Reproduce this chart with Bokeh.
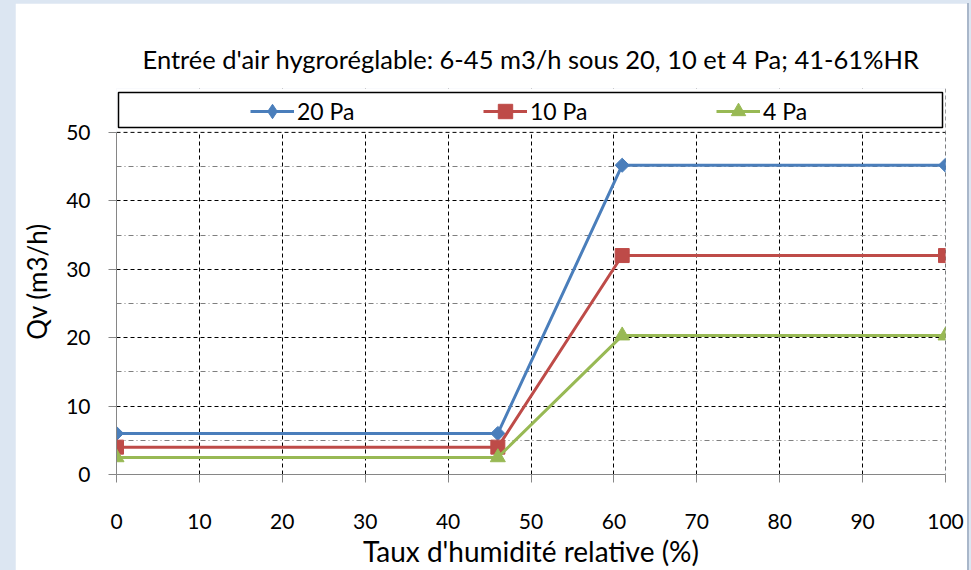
import math
from bokeh.plotting import figure
from bokeh.layouts import column
from bokeh.models import FixedTicker, Legend, LegendItem, Range1d, Span, BoxAnnotation
from bokeh.embed import file_html
from bokeh.resources import INLINE

# ---- data ----
humidity = [0, 46, 61, 100]
q_20pa = [6.0, 6.0, 45.2, 45.2]
q_10pa = [4.0, 4.0, 32.0, 32.0]
q_4pa = [2.5, 2.5, 20.3, 20.3]
series_names = ["20 Pa", "10 Pa", "4 Pa"]
x_ticks = [0, 10, 20, 30, 40, 50, 60, 70, 80, 90, 100]
y_ticks = [0, 10, 20, 30, 40, 50]
y_minor = [5, 15, 25, 35, 45]
title_text = "Entrée d'air hygroréglable: 6-45 m3/h sous 20, 10 et 4 Pa; 41-61%HR"
x_label = "Taux d'humidité relative (%)"
y_label = "Qv (m3/h)"

FONT = "Lato"
colors = ["#4A7EBB", "#BE4B48", "#98B954"]

# layout (pixels inside the figure canvas)
FIG_W, FIG_H = 952, 567
FRAME_TOP, FRAME_BOTTOM, AXIS_TOP = 85, 472, 129   # y of frame top, y=0, y=50
y_end = y_ticks[-1] * (FRAME_BOTTOM - FRAME_TOP) / (FRAME_BOTTOM - AXIS_TOP)

p = figure(width=FIG_W, height=FIG_H, output_backend="svg", toolbar_location=None,
           x_range=Range1d(x_ticks[0], x_ticks[-1]), y_range=Range1d(0, y_end),
           min_border_left=101, min_border_right=22, min_border_top=FRAME_TOP,
           min_border_bottom=FIG_H - FRAME_BOTTOM)
p.margin = (3, 4, 0, 15)
p.styles = {"box-shadow": "2px 0 0 0 #A9B7CA"}
p.border_fill_color = "white"
p.background_fill_color = "white"
p.outline_line_color = None

# title
p.title.text = title_text
p.title.align = "center"
p.title.text_font = FONT
p.title.text_font_size = "25.5px"
p.title.text_font_style = "normal"
p.title.text_color = "black"
p.title.standoff = 29

# grids
p.xgrid.ticker = FixedTicker(ticks=x_ticks[1:-1])
p.xgrid.grid_line_color = "black"
p.xgrid.grid_line_dash = "4 3"
p.ygrid.ticker = FixedTicker(ticks=y_ticks[1:-1], minor_ticks=y_minor)
p.ygrid.grid_line_color = "black"
p.ygrid.grid_line_dash = "4 3"
p.ygrid.minor_grid_line_color = "#7F7F7F"
p.ygrid.minor_grid_line_dash = "5 3 1 3"
p.add_layout(Span(location=x_ticks[-1], dimension="height", line_color="black",
                  line_dash="4 3", line_width=1, level="underlay"))
# blank area above the plot (legend zone)
p.add_layout(BoxAnnotation(bottom=y_ticks[-1], fill_color="white", fill_alpha=1,
                           line_color=None, level="underlay"))
p.add_layout(Span(location=y_ticks[-1], dimension="width", line_color="black",
                  line_dash="4 3", line_width=1, level="underlay"))

# axes
p.xaxis.ticker = FixedTicker(ticks=x_ticks)
p.yaxis.ticker = FixedTicker(ticks=y_ticks)
p.yaxis.bounds = (y_ticks[0], y_ticks[-1])
p.xaxis.axis_label = x_label
p.yaxis.axis_label = y_label
for ax in (p.xaxis[0], p.yaxis[0]):
    ax.axis_line_color = "#868686"
    ax.major_tick_line_color = "#868686"
    ax.major_tick_out = 8
    ax.major_tick_in = 0
    ax.minor_tick_out = 0
    ax.minor_tick_in = 0
    ax.major_label_text_font = FONT
    ax.major_label_text_font_size = "21px"
    ax.major_label_text_color = "black"
    ax.axis_label_text_font = FONT
    ax.axis_label_text_font_style = "normal"
    ax.axis_label_text_color = "black"
p.xaxis.axis_label_text_font_size = "28px"
p.yaxis.axis_label_text_font_size = "26px"
p.yaxis.major_label_standoff = 18
p.yaxis.axis_label_standoff = 10
p.xaxis.major_label_standoff = 31
p.xaxis.axis_label_standoff = 2

# series
series = [q_20pa, q_10pa, q_4pa]
plot_markers = [("square", math.pi / 4, 10), ("square", 0, 14), ("triangle", 0, 15)]
legend_markers = ["diamond", "square", "triangle"]
items = []
for name, ys, col, (mk, ang, sz), lmk in zip(series_names, series, colors, plot_markers, legend_markers):
    ln = p.line(humidity, ys, line_color=col, line_width=3)
    if lmk != mk:
        # legend key shape (hidden under the plotted marker)
        key = p.scatter(humidity, ys, marker=lmk, size=sz * 0.9, fill_color=col, line_color=col)
    sc = p.scatter(humidity, ys, marker=mk, angle=ang, size=sz, fill_color=col, line_color=col)
    if lmk == mk:
        key = sc
    items.append(LegendItem(label=name, renderers=[ln, key]))

# legend frame
p.add_layout(BoxAnnotation(left=103, right=927, top=89, bottom=124,
                           left_units="canvas", right_units="canvas",
                           top_units="canvas", bottom_units="canvas",
                           fill_color="white", fill_alpha=1, line_color="black",
                           line_width=1.5, line_alpha=1))
legend = Legend(items=items, orientation="horizontal", location=(134, 345),
                border_line_color=None, background_fill_alpha=0,
                padding=0, margin=0, spacing=86, glyph_width=44, glyph_height=36,
                label_width=100, label_height=36, label_standoff=3,
                label_text_font=FONT, label_text_font_size="23px", label_text_color="black")
p.add_layout(legend)

root = column(p, styles={"background-color": "#DCE6F2"})
open("out.html", "w").write(file_html(root, INLINE))
